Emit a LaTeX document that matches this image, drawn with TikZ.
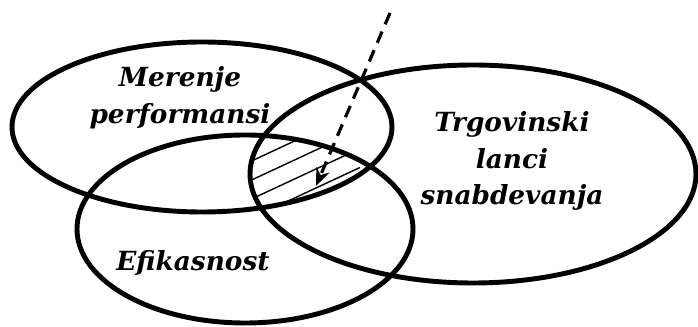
\documentclass[tikz,border=0pt]{standalone}
\usepackage{fontspec}
\setmainfont{DejaVu Serif}
\usetikzlibrary{arrows.meta}

\tikzset{
  ring/.style={draw=black, line width=2.8pt},
  hatchline/.style={draw=black, line width=0.8pt},
  setlabel/.style={font=\fontsize{15}{21}\selectfont\bfseries\itshape, align=center, inner sep=0pt},
  pointer/.style={line width=1.8pt, dash pattern=on 7pt off 4.5pt, -{Stealth[length=10pt,width=8pt]}}
}

\begin{document}
\begin{tikzpicture}[x=0.02cm, y=0.02cm]
	\useasboundingbox (0,0) rectangle (698,-327);
	
	\coordinate (mer) at (202,-127);
	\coordinate (trg) at (473,-174);
	\coordinate (efi) at (245,-229);
	
	% common part of the three sets
	\begin{scope}
		\clip (mer) ellipse [x radius=190, y radius=85];
		\clip (trg) ellipse [x radius=223, y radius=109];
		\clip (efi) ellipse [x radius=168, y radius=94];
		\foreach \k in {-2,...,6}
			\draw[hatchline] (240,{-158-19*\k-8.4}) -- (360,{-158-19*\k+47.5});
	\end{scope}
	
	\draw[ring] (mer) ellipse [x radius=190, y radius=85];
	\draw[ring] (trg) ellipse [x radius=223, y radius=109];
	\draw[ring] (efi) ellipse [x radius=168, y radius=94];
	
	\node[setlabel] (merenje) at (180,-98) {Merenje\\performansi};
	\node[setlabel] (trgovinski) at (512,-161) {Trgovinski\\lanci\\snabdevanja};
	\node[setlabel] (efikasnost) at (193,-263) {Efikasnost};
	
	\coordinate (from) at (390,-13);
	\coordinate (to) at (316,-186);
	\draw[pointer] (from) -- (to);
\end{tikzpicture}
\end{document}
